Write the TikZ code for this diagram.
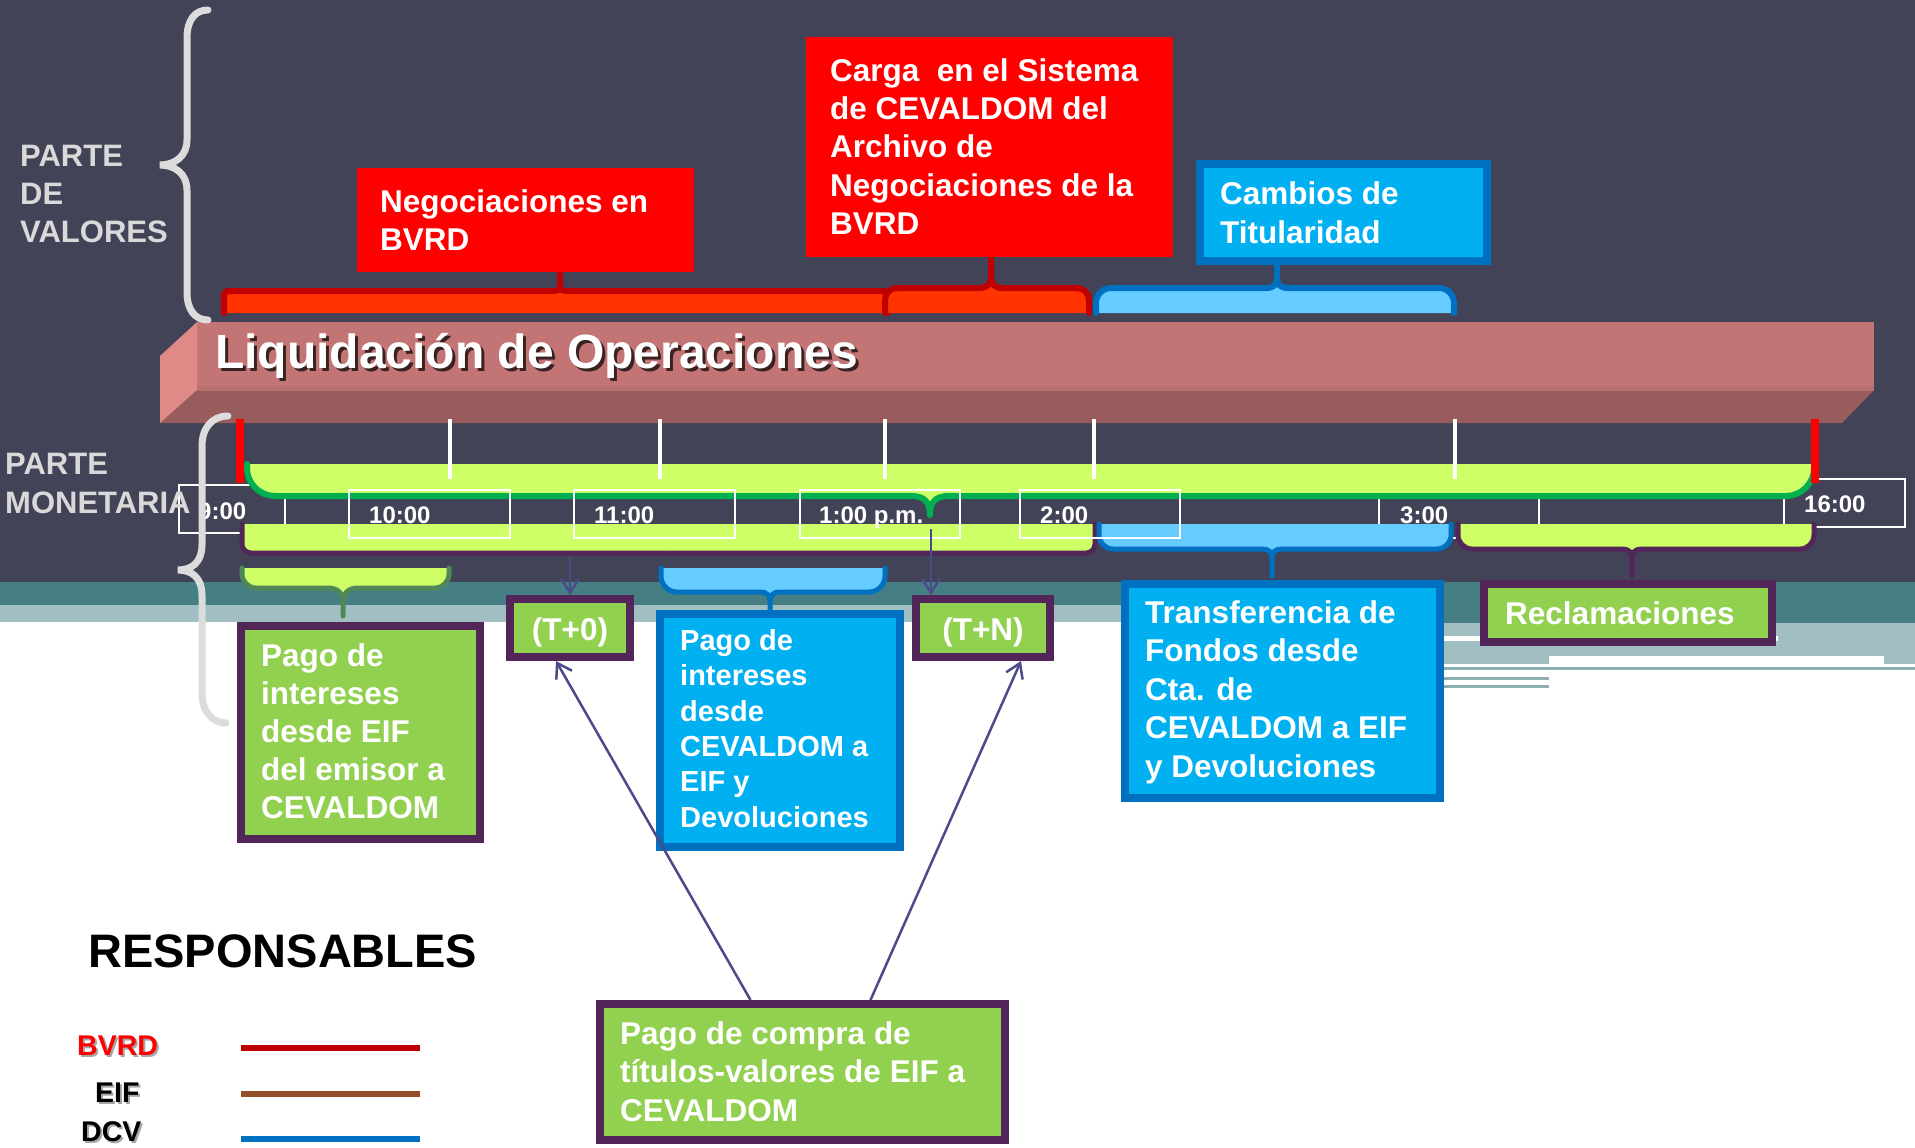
\documentclass[tikz,border=0pt]{standalone}
\usepackage{fontspec}
\setmainfont{Liberation Sans}
\usetikzlibrary{arrows.meta,calc}

\definecolor{bgdark}{RGB}{66,67,87}
\definecolor{tealband}{RGB}{69,127,132}
\definecolor{lightband}{RGB}{161,190,194}
\definecolor{stripline}{RGB}{140,175,180}
\definecolor{barfront}{RGB}{194,117,116}
\definecolor{barbottom}{RGB}{151,92,91}
\definecolor{barleft}{RGB}{224,138,136}
\definecolor{boxred}{RGB}{255,0,0}
\definecolor{orangered}{RGB}{255,51,0}
\definecolor{darkred}{RGB}{192,0,0}
\definecolor{boxblue}{RGB}{0,176,240}
\definecolor{blueline}{RGB}{0,112,192}
\definecolor{lightblue}{RGB}{102,204,255}
\definecolor{lime}{RGB}{207,255,102}
\definecolor{greenline}{RGB}{0,176,80}
\definecolor{purpleline}{RGB}{82,38,88}
\definecolor{boxgreen}{RGB}{146,208,80}
\definecolor{arrowcol}{RGB}{76,75,138}
\definecolor{bracegrey}{RGB}{220,220,220}
\definecolor{labelgrey}{RGB}{217,217,217}
\definecolor{mossline}{RGB}{80,135,88}
\definecolor{brownline}{RGB}{149,79,38}

% brace path: x0, x1, y(open side), y(outline), radius, stem x, stem tip y, shoulder, direction
\newcommand{\brpath}[9]{(#1,#3) -- (#1,{#4-(#9)*#5}) .. controls (#1,{#4-(#9)*0.45*#5}) and ({#1+0.45*#5},#4) .. ({#1+#5},#4) -- ({#6-#8},#4) .. controls ({#6-0.3*#8},#4) and (#6,{#4+(#9)*0.3*#8}) .. (#6,{#4+(#9)*#8}) -- (#6,#7) -- (#6,{#4+(#9)*#8}) .. controls (#6,{#4+(#9)*0.3*#8}) and ({#6+0.3*#8},#4) .. ({#6+#8},#4) -- ({#2-#5},#4) .. controls ({#2-0.45*#5},#4) and (#2,{#4-(#9)*0.45*#5}) .. (#2,{#4-(#9)*#5}) -- (#2,#3)}
% box node: name, x0, y0, x1, y1, border width, style
\newcommand{\boxat}[7]{\node[boxnode,#7,minimum width={#4-#2-#6},minimum height={#5-#3-#6}] (#1) at ({(#2+#4)/2},{(#3+#5)/2}) {};}
\newcommand{\fl}[1]{\rule{0pt}{#1pt}}

\tikzset{
  boxnode/.style={rectangle, inner sep=0pt, line width=8pt},
  txt/.style={anchor=north west, inner sep=0pt, align=left, text=white, font=\fontsize{31.5}{38.3}\selectfont\bfseries},
  timebox/.style={draw=white, line width=2.5pt},
  timetxt/.style={anchor=base west, inner sep=0pt, text=white, font=\fontsize{24}{28}\selectfont\bfseries},
  tickline/.style={draw=white, line width=4pt},
  redtick/.style={draw=red, line width=8pt},
  arr/.style={draw=arrowcol, line width=2.5pt, -{Straight Barb[length=14pt,width=18pt]}},
  sidebrace/.style={draw=bracegrey, line width=7pt, line cap=round},
  sidelbl/.style={anchor=north west, inner sep=0pt, align=left, text=labelgrey, font=\fontsize{31}{38}\selectfont\bfseries},
  legtxt/.style={anchor=base west, inner sep=0pt, font=\fontsize{28.5}{34}\selectfont\bfseries},
  legline/.style={line width=6pt},
  braceline/.style={line width=6pt, line join=round, line cap=round},
}

\begin{document}
\begin{tikzpicture}[x=1pt,y=-1pt]
\fill[white] (0,0) rectangle (1915,1148);
\useasboundingbox (0,0) rectangle (1915,1148);

% background bands
\fill[bgdark] (0,0) rectangle (1915,582);
\fill[tealband] (0,582) rectangle (1915,605);
\fill[tealband] (1440,605) rectangle (1915,623);
\fill[lightband] (0,605) rectangle (1440,622);
\fill[lightband] (1440,623) rectangle (1915,664);
\fill[white] (1443,636) rectangle (1778,641);
\fill[white] (1549,656) rectangle (1884,664);
\fill[stripline] (1443,667) rectangle (1915,669.5);
\fill[stripline] (1443,677) rectangle (1549,680);
\fill[stripline] (1443,685) rectangle (1549,688);

% 3D bar
\fill[barbottom] (197,390) -- (1874,390) -- (1842,423) -- (160,423) -- cycle;
\fill[barfront] (197,322) rectangle (1874,390);
\fill[barfront!80!barbottom] (197,386) rectangle (1874,391);
\fill[barleft] (197,322) -- (197,390) -- (160,423) -- (160,356) -- cycle;
\node[anchor=base west, inner sep=0pt, font=\fontsize{48}{56}\selectfont\bfseries, text=black, text opacity=0.7] (titleshadow) at (218,371) {Liquidación de Operaciones};
\node[anchor=base west, inner sep=0pt, font=\fontsize{48}{56}\selectfont\bfseries, text=white] (title) at (215,368) {Liquidación de Operaciones};

% upper braces
\fill[orangered] \brpath{224}{888}{313}{291}{4}{560}{273}{6}{-1} -- cycle;
\draw[darkred, braceline] \brpath{224}{888}{313}{291}{4}{560}{273}{6}{-1};
\fill[orangered] \brpath{885}{1089}{313}{288}{12}{991}{257}{12}{-1} -- cycle;
\draw[darkred, braceline] \brpath{885}{1089}{313}{288}{12}{991}{257}{12}{-1};
\fill[lightblue] \brpath{1096}{1454}{313}{288}{15}{1277}{265}{11}{-1} -- cycle;
\draw[blueline, braceline] \brpath{1096}{1454}{313}{288}{15}{1277}{265}{11}{-1};

% top boxes
\boxat{neg}{357}{168}{694}{272}{0}{fill=boxred}
\boxat{carga}{806}{37}{1173}{257}{0}{fill=boxred}
\boxat{cambios}{1196}{160}{1491}{265}{8}{fill=boxblue,draw=blueline}
\node[txt] (negt) at (380,182) {\fl{30}Negociaciones en\\BVRD};
\node[txt] (cargat) at (830,51) {\fl{30}Carga~ en el Sistema\\de CEVALDOM del\\Archivo de\\Negociaciones de la\\BVRD};
\node[txt, font=\fontsize{31.5}{39}\selectfont\bfseries] (cambiost) at (1220,174) {\fl{30}Cambios de\\Titularidad};

% time boxes behind the bars
\draw[timebox] (179,485) rectangle (285,533);
\draw[timebox] (1379,490) rectangle (1539,538);
\draw[timebox] (1784,479) rectangle (1905,527);
\node[timetxt] (l9) at (198,519) {9:00};
\node[timetxt] (l15) at (1400,523) {3:00};
\node[timetxt] (l16) at (1804,512) {16:00};

% timeline bars
\fill[lime] \brpath{247}{1814}{464}{496}{28}{930}{515}{19}{1} -- cycle;
\draw[greenline, braceline] \brpath{247}{1814}{464}{496}{28}{930}{515}{19}{1};
\fill[lime] \brpath{242}{1095}{524}{553}{9}{668}{554}{1}{1} -- cycle;
\draw[purpleline, braceline, line width=5pt] \brpath{242}{1095}{524}{553}{9}{668}{554}{1}{1};
\fill[lightblue] \brpath{1099}{1451}{524}{549}{14}{1272}{576}{10}{1} -- cycle;
\draw[blueline, braceline, line width=5pt] \brpath{1099}{1451}{524}{549}{14}{1272}{576}{10}{1};
\fill[lime] \brpath{1458}{1814}{524}{549}{14}{1632}{576}{10}{1} -- cycle;
\draw[purpleline, braceline, line width=5pt] \brpath{1458}{1814}{524}{549}{14}{1632}{576}{10}{1};

% ticks
\foreach \x in {450,660,885,1094,1455} \draw[tickline] (\x,419) -- (\x,479);
\draw[redtick] (240,419) -- (240,483);
\draw[redtick] (1815,419) -- (1815,483);

% time boxes in front
\draw[timebox] (349,490) rectangle (510,538);
\draw[timebox] (574,490) rectangle (735,538);
\draw[timebox] (800,490) rectangle (960,538);
\draw[timebox] (1020,490) rectangle (1180,538);
\node[timetxt] (l10) at (369,523) {10:00};
\node[timetxt] (l11) at (594,523) {11:00};
\node[timetxt] (l13) at (819,523) {1:00 p.m.};
\node[timetxt] (l14) at (1040,523) {2:00};

% small braces
\fill[lime] \brpath{242}{449}{568}{588}{14}{343}{616}{16}{1} -- cycle;
\draw[mossline, braceline, line width=5pt] \brpath{242}{449}{568}{588}{14}{343}{616}{16}{1};
\fill[lightblue] \brpath{661}{885}{568}{592}{16}{770}{610}{10}{1} -- cycle;
\draw[blueline, braceline, line width=5pt] \brpath{661}{885}{568}{592}{16}{770}{610}{10}{1};

% lower boxes
\boxat{pagoeif}{237}{622}{484}{843}{8}{fill=boxgreen,draw=purpleline}
\boxat{tzero}{506}{595}{634}{661}{8}{fill=boxgreen,draw=purpleline}
\boxat{pagocev}{656}{610}{904}{851}{8}{fill=boxblue,draw=blueline}
\boxat{tn}{912}{595}{1054}{661}{8}{fill=boxgreen,draw=purpleline}
\boxat{transf}{1121}{580}{1444}{802}{8}{fill=boxblue,draw=blueline}
\boxat{recl}{1480}{580}{1776}{646}{8}{fill=boxgreen,draw=purpleline}
\boxat{compra}{596}{1000}{1009}{1144}{8}{fill=boxgreen,draw=purpleline}

\node[txt, font=\fontsize{31.5}{38}\selectfont\bfseries] (pagoeift) at (261,636) {\fl{30}Pago de\\intereses\\desde EIF\\del emisor a\\CEVALDOM};
\node[anchor=base, inner sep=0pt, text=white, font=\fontsize{31.5}{38}\selectfont\bfseries] (tzerot) at (570,640) {(T+0)};
\node[txt, font=\fontsize{29}{35.4}\selectfont\bfseries] (pagocevt) at (680,622) {\fl{28}Pago de\\intereses\\desde\\CEVALDOM a\\EIF y\\Devoluciones};
\node[anchor=base, inner sep=0pt, text=white, font=\fontsize{31.5}{38}\selectfont\bfseries] (tnt) at (983,640) {(T+N)};
\node[txt, font=\fontsize{31.5}{38.5}\selectfont\bfseries] (transft) at (1145,593) {\fl{30}Transferencia de\\Fondos desde\\Cta. de\\CEVALDOM a EIF\\y Devoluciones};
\node[anchor=base west, inner sep=0pt, text=white, font=\fontsize{31.5}{38}\selectfont\bfseries] (reclt) at (1505,624) {Reclamaciones};
\node[txt, font=\fontsize{31.5}{38.5}\selectfont\bfseries] (comprat) at (620,1014) {\fl{30}Pago de compra de\\títulos-valores de EIF a\\CEVALDOM};

% arrows
\coordinate (a11) at (570,557);
\coordinate (a13) at (931,529);
\draw[arr] (a11) -- (a11 |- tzero.north);
\draw[arr] (a13) -- (a13 |- tn.north);
\draw[arr] ($(compra.north)+(-52,0)$) -- ($(tzero.south)+(-14,0)$);
\draw[arr] ($(compra.north)+(68,0)$) -- ($(tn.south)+(38,0)$);

% side labels and braces
\node[sidelbl] (pv) at (20,136) {\fl{30}PARTE\\DE\\VALORES};
\node[sidelbl, font=\fontsize{31}{39}\selectfont\bfseries] (pm) at (5,444) {\fl{30}PARTE\\MONETARIA};
\draw[sidebrace] (208,10) .. controls (195,10) and (187,20) .. (187,38) -- (187,140) .. controls (187,156) and (175,165) .. (160,165) .. controls (175,165) and (187,174) .. (187,190) -- (187,292) .. controls (187,310) and (195,320) .. (208,320);
\draw[sidebrace] (228,416) .. controls (212,416) and (202,428) .. (202,446) -- (202,545) .. controls (202,562) and (192,570) .. (178,570) .. controls (192,570) and (202,578) .. (202,595) -- (202,693) .. controls (202,711) and (212,723) .. (226,723);

% legend
\node[anchor=base west, inner sep=0pt, font=\fontsize{47}{56}\selectfont\bfseries] (resp) at (88,967) {RESPONSABLES};
\node[legtxt, text=black, text opacity=0.35] (lbvrds) at (79,1057) {BVRD};
\node[legtxt, text=red] (lbvrd) at (77,1055) {BVRD};
\node[legtxt, text=black, text opacity=0.35] (leifs) at (97,1104) {EIF};
\node[legtxt, text=black] (leif) at (95,1102) {EIF};
\node[legtxt, text=black, text opacity=0.35] (ldcvs) at (83,1143) {DCV};
\node[legtxt, text=black] (ldcv) at (81,1141) {DCV};
\draw[legline, darkred] (241,1048) -- (420,1048);
\draw[legline, brownline] (241,1094) -- (420,1094);
\draw[legline, blueline] (241,1139) -- (420,1139);
\end{tikzpicture}
\end{document}
